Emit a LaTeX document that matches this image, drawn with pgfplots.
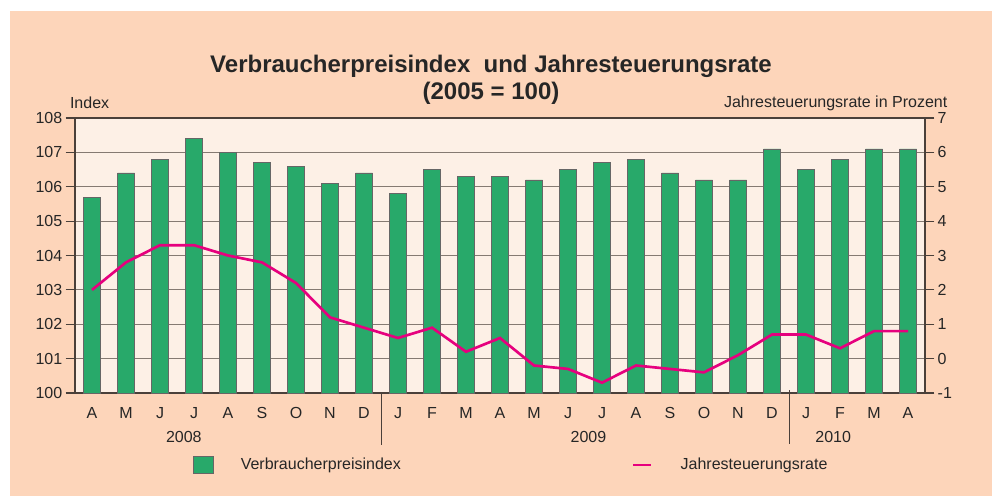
\documentclass[border=0pt]{standalone}
\usepackage{fontspec}
\setmainfont{Liberation Sans}
\usepackage{pgfplots}
\pgfplotsset{compat=1.18}
\definecolor{peach}{HTML}{FDD5BA}
\definecolor{plotbg}{HTML}{FDF0E6}
\definecolor{vpigreen}{HTML}{28A96A}
\definecolor{ratepink}{HTML}{E6007E}
\definecolor{gridc}{HTML}{857A72}
\definecolor{axisc}{HTML}{4A403A}

\pgfplotstableread{
x vpi rate
0 105.7 2.0
1 106.4 2.8
2 106.8 3.3
3 107.4 3.3
4 107.0 3.0
5 106.7 2.8
6 106.6 2.2
7 106.1 1.2
8 106.4 0.9
9 105.8 0.6
10 106.5 0.9
11 106.3 0.2
12 106.3 0.6
13 106.2 -0.2
14 106.5 -0.3
15 106.7 -0.7
16 106.8 -0.2
17 106.4 -0.3
18 106.2 -0.4
19 106.2 0.1
20 107.1 0.7
21 106.5 0.7
22 106.8 0.3
23 107.1 0.8
24 107.1 0.8
}\data

\begin{document}
\begin{tikzpicture}
% page: 992x496 px, 1px = 0.75pt
\fill[white] (0,0) rectangle (744pt,372pt);
\fill[peach] (7.5pt,0) rectangle (744pt,363.75pt);

\node[font=\bfseries\fontsize{18}{20}\selectfont, text=black!85, align=center] at (368.25pt,312pt)
  {Verbraucherpreisindex\ \ und Jahresteuerungsrate\\(2005 = 100)};
\node[anchor=west, font=\fontsize{12}{14}\selectfont, text=black!85] at (49pt,294.75pt) {Index};
\node[anchor=east, font=\fontsize{12}{14}\selectfont, text=black!85] at (714pt,294.75pt) {Jahresteuerungsrate in Prozent};

\begin{axis}[
  at={(56.25pt,77.25pt)}, anchor=south west,
  scale only axis, width=637.5pt, height=206.25pt,
  axis background/.style={fill=plotbg},
  ybar, bar width=12.75pt,
  xmin=-0.5, xmax=24.5,
  ymin=100, ymax=108,
  ytick={100,...,108},
  xtick={0,...,24},
  xticklabels={A,M,J,J,A,S,O,N,D,J,F,M,A,M,J,J,A,S,O,N,D,J,F,M,A},
  major x tick style={draw=none},
  ymajorgrids, grid style={gridc, line width=0.6pt},
  axis y line*=left, axis x line*=bottom,
  axis line style={axisc, line width=0.9pt},
  y tick style={axisc, line width=0.9pt},
  tick align=outside, major tick length=7pt,
  ticklabel style={font=\fontsize{12}{14}\selectfont, text=black!85},
  y tick label style={xshift=1pt},
  /pgf/number format/assume math mode=true,
  clip=false,
  legend style={at={(0.139,-0.262)}, anchor=west, draw=none, fill=none,
    font=\fontsize{12}{14}\selectfont, text=black!85, inner sep=0pt},
  legend image code/.code={\draw[#1] (0pt,-6.5pt) rectangle (15pt,6.5pt);},
]
\addplot[fill=vpigreen, draw=gray!80!black, line width=0.5pt] table[x=x, y=vpi] {\data};
\addlegendentry{\hspace{18pt}Verbraucherpreisindex}
\draw[axisc, line width=0.7pt] (axis cs:8.5,100) -- ([yshift=-39pt]axis cs:8.5,100);
\draw[axisc, line width=0.7pt] ([yshift=2pt]axis cs:20.5,100) -- ([yshift=-38pt]axis cs:20.5,100);
\node[font=\fontsize{12}{14}\selectfont, text=black!85] at ([yshift=-33pt]axis cs:2.7,100) {2008};
\node[font=\fontsize{12}{14}\selectfont, text=black!85] at ([yshift=-33pt]axis cs:14.6,100) {2009};
\node[font=\fontsize{12}{14}\selectfont, text=black!85] at ([yshift=-33pt]axis cs:21.8,100) {2010};
\end{axis}

\begin{axis}[
  at={(56.25pt,77.25pt)}, anchor=south west,
  scale only axis, width=637.5pt, height=206.25pt,
  xmin=-0.5, xmax=24.5,
  ymin=-1, ymax=7,
  ytick={-1,...,7},
  yticklabels={-1,0,1,2,3,4,5,6,7},
  axis x line=none,
  axis y line*=right,
  axis line style={axisc, line width=0.9pt},
  y tick style={axisc, line width=0.9pt},
  tick align=outside, major tick length=7pt,
  ticklabel style={font=\fontsize{12}{14}\selectfont, text=black!85},
  y tick label style={xshift=-1pt},
  legend style={at={(0.655,-0.262)}, anchor=west, draw=none, fill=none,
    font=\fontsize{12}{14}\selectfont, text=black!85, inner sep=0pt},
  legend image code/.code={\draw[#1] (0pt,0pt) -- (13.5pt,0pt);},
]
\addplot[ratepink, line width=2pt, mark=none] table[x=x, y=rate] {\data};
\addlegendentry{\hspace{19pt}Jahresteuerungsrate}
\draw[axisc, line width=0.9pt] (rel axis cs:0,1) -- (rel axis cs:1,1);
\end{axis}
\end{tikzpicture}
\end{document}
